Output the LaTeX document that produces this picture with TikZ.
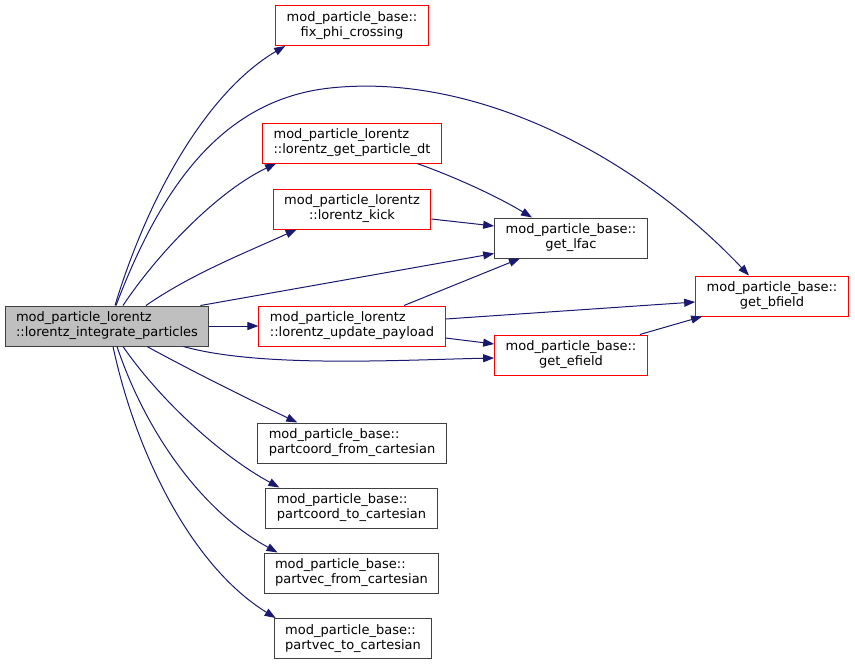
\documentclass[tikz,border=0pt]{standalone}
\usepackage{fontspec}
\setmainfont{DejaVu Sans}
\usepackage{tikz}
\usetikzlibrary{arrows.meta, positioning}
\definecolor{edgeblue}{HTML}{191970}
\definecolor{boxgray}{HTML}{404040}
\definecolor{mainfill}{HTML}{BFBFBF}
\tikzstyle{block} = [draw=boxgray, rectangle, line width=1pt, minimum height=40pt, inner xsep=11pt, inner ysep=2pt, align=center, font=\fontsize{13}{15}\selectfont]
\tikzstyle{redblock} = [block, draw=red]
\tikzstyle{caller} = [block, fill=mainfill]
\tikzstyle{wire} = [-{Triangle[length=11pt,width=8pt]}, line width=1pt, draw=edgeblue]

\begin{document}
\begin{tikzpicture}[x=1pt, y=-1pt]
    \useasboundingbox (0,0) rectangle (855,665);
    \node[caller, align=left] (main) at (107,326) {mod\_particle\_lorentz\\::lorentz\_integrate\_particles};
    \node[redblock, align=left, right=49pt of main] (upd) {mod\_particle\_lorentz\\::lorentz\_update\_payload};
    \node[redblock] (fix) at (352,25.5) {mod\_particle\_base::\\fix\_phi\_crossing};
    \node[redblock, align=left] (pdt) at (352,143) {mod\_particle\_lorentz\\::lorentz\_get\_particle\_dt};
    \node[redblock] (kick) at (352,209) {mod\_particle\_lorentz\\::lorentz\_kick};
    \node[block] (lfac) at (571,238) {mod\_particle\_base::\\get\_lfac};
    \node[redblock] (bfield) at (772,296) {mod\_particle\_base::\\get\_bfield};
    \node[redblock] (efield) at (571,355) {mod\_particle\_base::\\get\_efield};
    \node[block, align=left] (pcf) at (352,443) {mod\_particle\_base::\\partcoord\_from\_cartesian};
    \node[block, align=left] (pct) at (351.5,508) {mod\_particle\_base::\\partcoord\_to\_cartesian};
    \node[block, align=left] (pvf) at (351.5,573) {mod\_particle\_base::\\partvec\_from\_cartesian};
    \node[block, align=left] (pvt) at (353,638.5) {mod\_particle\_base::\\partvec\_to\_cartesian};

    % calls from lorentz_integrate_particles
    \draw[wire] ([xshift=8pt]main.north) .. controls (150,190) and (210,90) .. ([xshift=10pt]fix.south west);
    \draw[wire] ([xshift=9pt]main.north) .. controls (160,190) and (220,100) .. (330,88)
        .. controls (480,72) and (640,160) .. ([xshift=-23pt]bfield.north);
    \draw[wire] ([xshift=16pt]main.north) .. controls (160,250) and (220,190) .. ([xshift=14pt]pdt.south west);
    \draw[wire] ([xshift=39pt]main.north) .. controls (190,275) and (240,255) .. ([xshift=24pt]kick.south west);
    \draw[wire] ([xshift=-9pt]main.north east) -- ([yshift=5pt]lfac.south west);
    \draw[wire] (main) -- (upd);
    \draw[wire] ([xshift=-26pt]main.south east) .. controls (260,368) and (400,360) .. ([yshift=-3pt]efield.west);
    \draw[wire] ([xshift=40pt]main.south) .. controls (190,370) and (240,395) .. ([xshift=40pt]pcf.north west);
    \draw[wire] ([xshift=16pt]main.south) .. controls (160,400) and (220,455) .. ([xshift=14pt]pct.north west);
    \draw[wire] ([xshift=10pt]main.south) .. controls (145,430) and (200,510) .. ([xshift=14pt]pvf.north west);
    \draw[wire] ([xshift=6pt]main.south) .. controls (135,450) and (190,565) .. ([xshift=2pt]pvt.north west);

    % calls between the others
    \draw[wire] ([xshift=65pt]pdt.south) .. controls (450,175) and (495,195) .. ([xshift=-39pt]lfac.north);
    \draw[wire] ([yshift=-10pt]kick.east) -- ([yshift=12pt]lfac.west);
    \draw[wire] ([xshift=52pt]upd.north) -- ([xshift=-51pt]lfac.south);
    \draw[wire] ([yshift=7pt]upd.east) -- ([yshift=-6pt]bfield.west);
    \draw[wire] ([yshift=-12pt]upd.east) -- ([yshift=11pt]efield.west);
    \draw[wire] ([xshift=-8pt]efield.north east) -- ([xshift=7pt]bfield.south west);
\end{tikzpicture}
\end{document}
